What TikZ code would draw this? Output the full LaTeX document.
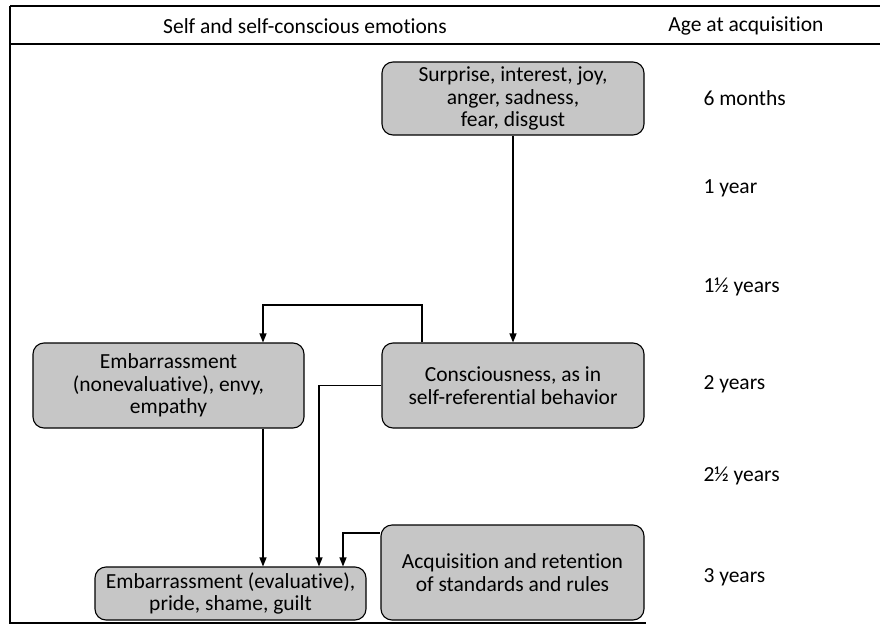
\documentclass[tikz,border=0pt]{standalone}
\usepackage{fontspec}
\setmainfont{Carlito}[Ligatures=NoCommon]
\usepackage{tikz}
\usetikzlibrary{arrows.meta,positioning}
\definecolor{boxgray}{RGB}{198,198,198}

\tikzset{
  emobox/.style={draw=black, line width=1.1pt, fill=boxgray, rounded corners=11pt,
    align=center, inner sep=1pt},
  arr/.style={line width=1.2pt, -{Triangle[length=9pt,width=7pt]}},
  frame/.style={line width=1.4pt},
  agelbl/.style={anchor=west}
}

\begin{document}
\begin{tikzpicture}[x=1pt, y=-1pt, font=\fontsize{21.5}{22.5}\selectfont]
    \useasboundingbox (0,0) rectangle (880,626);
    % table frame
    \draw[frame, line width=2pt] (10,6) -- (880,6);
    \draw[frame] (10,44) -- (880,44);
    \draw[frame] (10,6) -- (10,623) -- (646,623);
    \node (hself) at (305,26) {Self and self-conscious emotions};
    \node (hage) at (746,26) {Age at acquisition};

    % emotion boxes
    \node[emobox, minimum width=262pt, minimum height=73pt] (surp) at (513,98.5)
      {Surprise, interest, joy,\\ anger, sadness,\\ fear, disgust};
    \node[emobox, minimum width=271pt, minimum height=85pt] (embn) at (168.5,385.5)
      {Embarrassment\\ (nonevaluative), envy,\\ empathy};
    \node[emobox, minimum width=262pt, minimum height=85pt] (cons) at (513,385.5)
      {Consciousness, as in\\ self-referential behavior};
    \node[emobox, minimum width=271pt, minimum height=53pt] (embe) at (230.5,593.5)
      {Embarrassment (evaluative),\\ pride, shame, guilt};
    \node[emobox, minimum width=263pt, minimum height=95pt] (acq) at (512.5,572.5)
      {Acquisition and retention\\ of standards and rules};

    % ages
    \foreach \y/\txt [count=\i] in {98/6 months, 188/1 year, 287/1½ years,
        384/2 years, 476/2½ years, 577/3 years} {
      \node[agelbl] (age\i) at (700,\y) {\txt};
    }

    % connectors
    \coordinate (bend) at (340,305);
    \draw[arr] (surp.south) -- (cons.north);
    \draw[arr] ([xshift=-91pt]cons.north) |- (bend) -| ([xshift=94.5pt]embn.north);
    \draw[arr] ([xshift=94.5pt]embn.south) -- ([xshift=32.5pt]embe.north);
    \draw[arr] (cons.west) -| ([xshift=88.5pt]embe.north);
    \draw[arr] ([yshift=39.5pt]acq.west) -| ([xshift=112.5pt]embe.north);
  \end{tikzpicture}
\end{document}
